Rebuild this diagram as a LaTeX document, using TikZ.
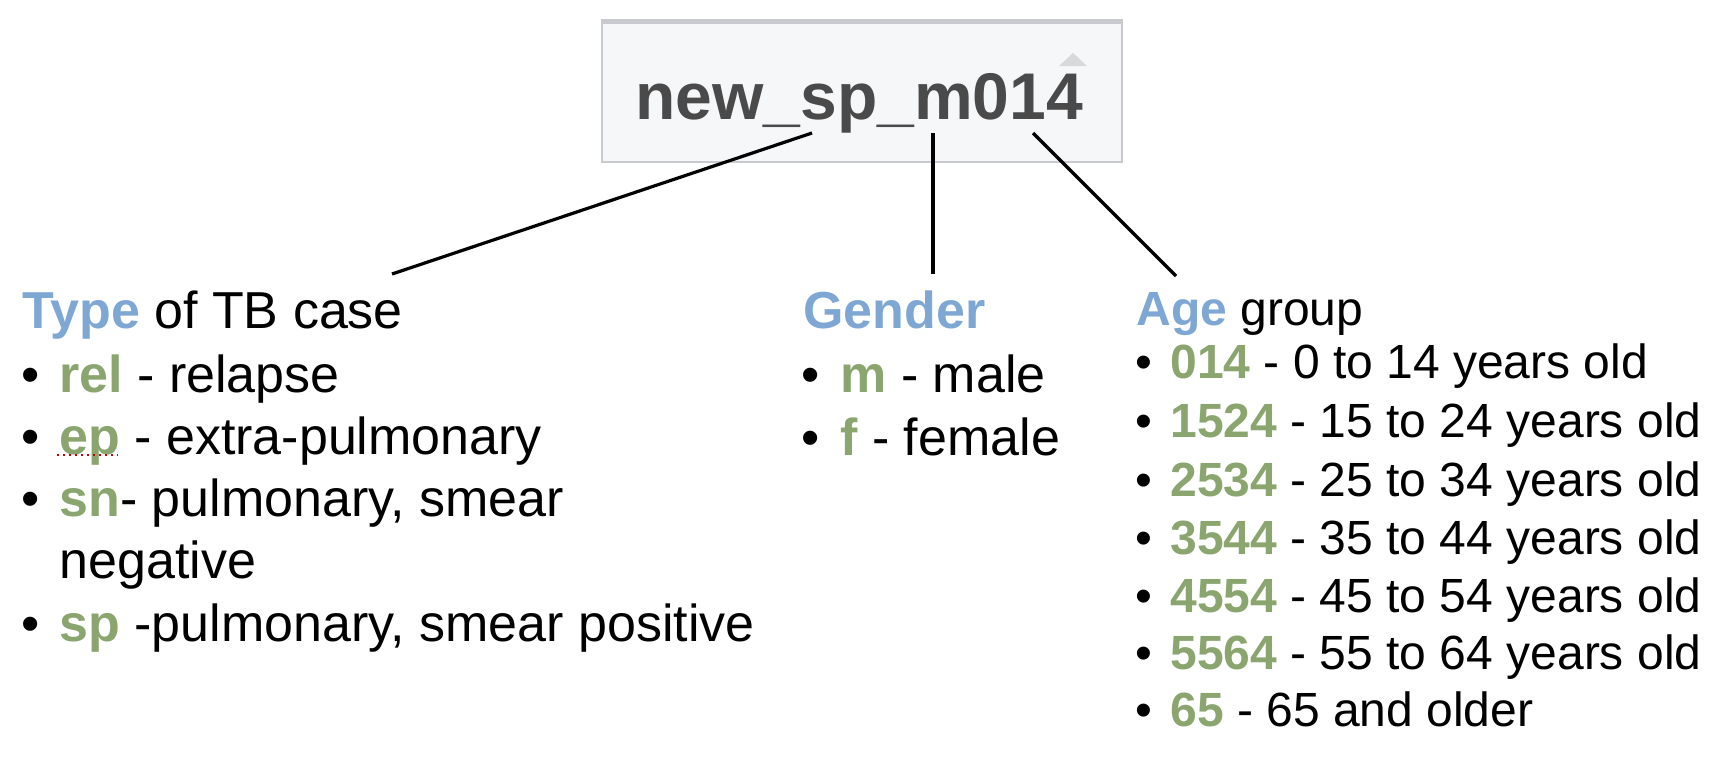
\documentclass[tikz,border=0pt]{standalone}
\usepackage{fontspec}
\setmainfont{Liberation Sans}
\definecolor{tbblue}{HTML}{7FA7D4}
\definecolor{tbgreen}{HTML}{8AA56E}
\definecolor{headgray}{HTML}{4A4A4A}
\definecolor{boxline}{HTML}{C8CACE}
\definecolor{boxfill}{HTML}{F6F7F9}
\newcommand{\bul}[3][19pt]{\makebox[#1][l]{\textbullet}\textcolor{tbgreen}{\bfseries #2}#3}
\newcommand{\grp}[1]{\textcolor{tbblue}{\bfseries #1}}

\begin{document}
\begin{tikzpicture}[x=0.5pt,y=-0.5pt,link/.style={line width=1.6pt},txt/.style={anchor=base west,inner sep=0pt,font=\fontsize{26}{30}\selectfont},agetxt/.style={txt,font=\fontsize{24}{28}\selectfont},headbox/.style={draw=boxline,fill=boxfill,line width=1pt,minimum width=260pt,minimum height=70pt,inner sep=0pt}]
\useasboundingbox (0,0) rectangle (1732,778);
% column name
\node[headbox] (head) at (862,92) {}; \draw[boxline,line width=2.5pt] (head.north west)--(head.north east);
\fill[gray!30] (1059,66)--(1073,53)--(1087,66)--cycle;
\node[txt,font=\fontsize{33}{38}\selectfont\bfseries,text=headgray] (name) at (635,119) {new\_sp\_m014};
% type of case
\node[txt] (type) at (22,328) {\grp{Type} of TB case};
\node[txt] (rel) at (21,392) {\bul{rel}{ - relapse}};
\node[txt] (ep) at (21,454) {\bul{ep}{ - extra-pulmonary}}; \draw[red!80!black,dotted,line width=1pt] (57,455)--(118,455);
\node[txt] (sn) at (21,516) {\bul{sn}{- pulmonary, smear}};
\node[txt] (sn2) at (59,578) {negative};
\node[txt] (sp) at (21,641) {\bul{sp}{ -pulmonary, smear positive}};
% gender
\node[txt] (gender) at (803,328) {\grp{Gender}};
\node[txt] (m) at (801,392) {\bul[19.5pt]{m}{ - male}};
\node[txt] (f) at (801,455) {\bul[19.5pt]{f}{ - female}};
% age group
\node[agetxt] (age) at (1136,325) {\grp{Age} group};
\node[agetxt] (a014) at (1135,378) {\bul[17.5pt]{014}{ - 0 to 14 years old}};
\node[agetxt] (a1524) at (1135,437) {\bul[17.5pt]{1524}{ - 15 to 24 years old}};
\node[agetxt] (a2534) at (1135,496) {\bul[17.5pt]{2534}{ - 25 to 34 years old}};
\node[agetxt] (a3544) at (1135,554) {\bul[17.5pt]{3544}{ - 35 to 44 years old}};
\node[agetxt] (a4554) at (1135,612) {\bul[17.5pt]{4554}{ - 45 to 54 years old}};
\node[agetxt] (a5564) at (1135,669) {\bul[17.5pt]{5564}{ - 55 to 64 years old}};
\node[agetxt] (a65) at (1135,726) {\bul[17.5pt]{65}{ - 65 and older}};
% connectors
\coordinate (typeFrom) at (812,133); \coordinate (typeTo) at (392,274);
\coordinate (genderFrom) at (933,133); \coordinate (genderTo) at (933,274);
\coordinate (ageFrom) at (1033,133); \coordinate (ageTo) at (1176,276);
\draw[link] (typeFrom)--(typeTo); \draw[link] (genderFrom)--(genderTo); \draw[link] (ageFrom)--(ageTo);
\end{tikzpicture}
\end{document}
